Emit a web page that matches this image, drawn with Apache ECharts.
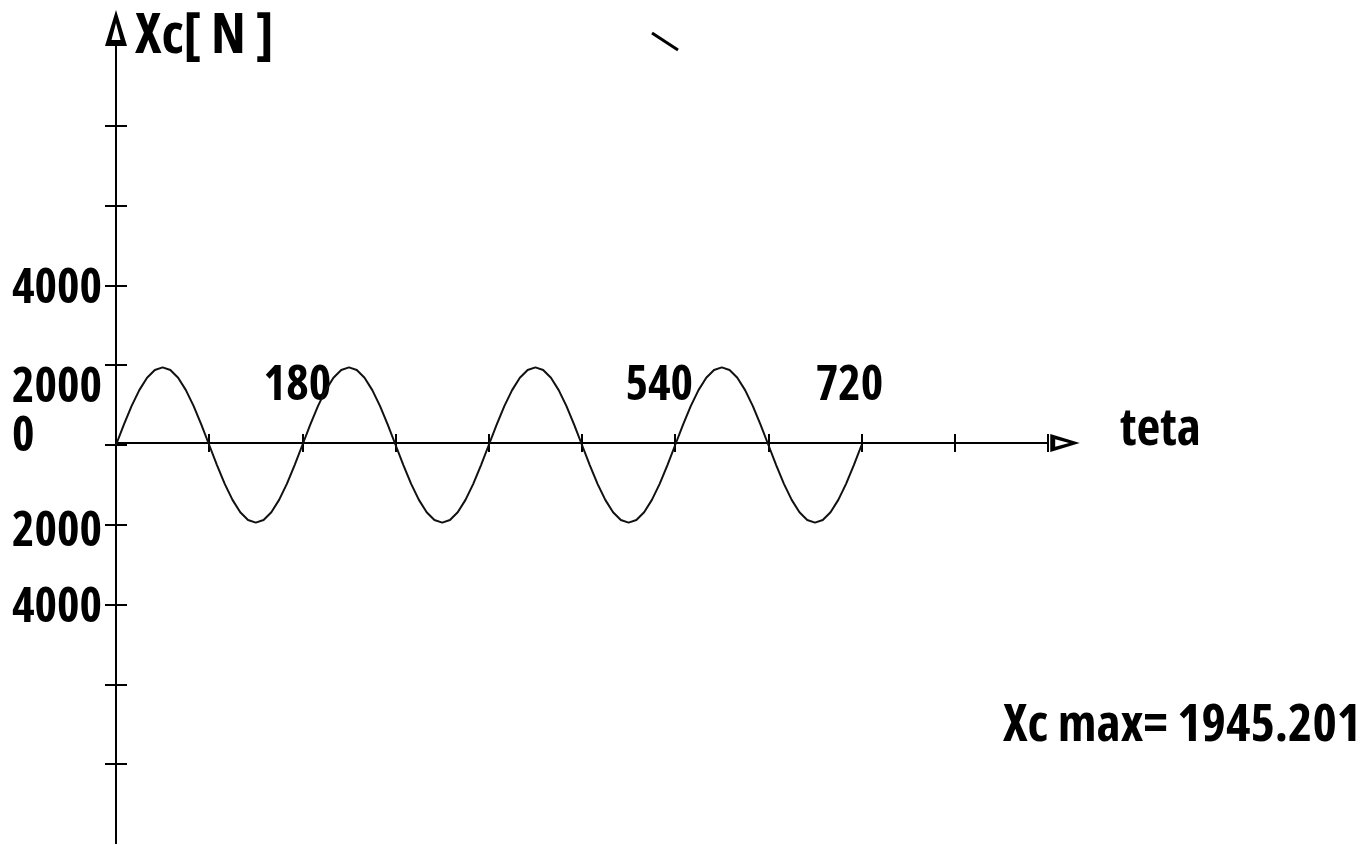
<!DOCTYPE html>
<html>
<head>
<meta charset="utf-8">
<script src="https://cdn.jsdelivr.net/npm/echarts@6/dist/echarts.min.js"></script>
<style>
html,body{margin:0;padding:0;background:#fff;}
#chart{width:1367px;height:844px;}
</style>
</head>
<body>
<div id="chart"></div>
<script>
// ---- data ----
const thetaDeg = [0,7.5,15,22.5,30,37.5,45,52.5,60,67.5,75,82.5,90,97.5,105,112.5,120,127.5,135,142.5,150,157.5,165,172.5,
  180,187.5,195,202.5,210,217.5,225,232.5,240,247.5,255,262.5,270,277.5,285,292.5,300,307.5,315,322.5,330,337.5,345,352.5,
  360,367.5,375,382.5,390,397.5,405,412.5,420,427.5,435,442.5,450,457.5,465,472.5,480,487.5,495,502.5,510,517.5,525,532.5,
  540,547.5,555,562.5,570,577.5,585,592.5,600,607.5,615,622.5,630,637.5,645,652.5,660,667.5,675,682.5,690,697.5,705,712.5,720];
const xcValues = [0,503,973,1375,1685,1879,1945,1879,1685,1375,973,503,0,-503,-973,-1375,-1685,-1879,-1945,-1879,-1685,-1375,-973,-503,
  0,503,973,1375,1685,1879,1945,1879,1685,1375,973,503,0,-503,-973,-1375,-1685,-1879,-1945,-1879,-1685,-1375,-973,-503,
  0,503,973,1375,1685,1879,1945,1879,1685,1375,973,503,0,-503,-973,-1375,-1685,-1879,-1945,-1879,-1685,-1375,-973,-503,
  0,503,973,1375,1685,1879,1945,1879,1685,1375,973,503,0,-503,-973,-1375,-1685,-1879,-1945,-1879,-1685,-1375,-973,-503,0];
const xTickValues = [90,180,270,360,450,540,630,720,810,900];
const xLabelValues = [180,540,720];
const yTickValues = [-8000,-6000,-4000,-2000,0,2000,4000,6000,8000];
const yLabelValues = [4000,2000,0,-2000,-4000];
const yAxisTitle = 'Xc[ N ]';
const xAxisTitle = 'teta';
const maxNote = 'Xc max= 1945.201';

const FONT = '"Open Sans","DejaVu Sans Condensed",sans-serif';
const FS = 52;
const FS_NUM = 48;
const arrowUp = 'path://M11,0 L22,36 L0,36 Z M11,13 L6.5,30 L15.5,30 Z';

const seriesData = thetaDeg.map((t, i) => [t, xcValues[i]]);

const chart = echarts.init(document.getElementById('chart'), null, {renderer: 'canvas'});
const txt = (extra) => Object.assign({fontFamily: FONT, fontStyle: 'condensed', fontSize: FS, fontWeight: 'bold', color: '#000'}, extra || {});
const num = (extra) => txt(Object.assign({fontSize: FS_NUM}, extra || {}));

const X_OFF = -401;

const option = {
  backgroundColor: '#fff',
  animation: false,
  title: {
    text: yAxisTitle, left: 135, top: 9, padding: 0,
    textStyle: txt({fontSize: 56})
  },
  grid: {left: 116, top: 46, width: 932, height: 802},
  xAxis: [{
    type: 'value', min: 0, max: 900, position: 'bottom', offset: X_OFF,
    splitLine: {show: false},
    axisLine: {onZero: false, lineStyle: {color: '#000', width: 2},
      symbol: ['none', arrowUp], symbolSize: [18, 35], symbolOffset: [0, 17]},
    axisTick: {show: true, customValues: xTickValues, length: 9, lineStyle: {color: '#000', width: 2}},
    axisLabel: {
      customValues: xLabelValues, inside: true, margin: 57, verticalAlign: 'middle',
      formatter: function (v) { return '{x' + v + '|' + v + '}'; },
      rich: {
        x180: num({padding: [0, 10, 0, 0]}),
        x540: num({padding: [0, 32, 0, 0]}),
        x720: num({padding: [0, 24, 0, 0]})
      }
    },
    name: '{t|' + xAxisTitle + '}', nameLocation: 'end', nameGap: 72,
    nameTextStyle: txt({align: 'left', verticalAlign: 'middle',
      rich: {t: txt({padding: [0, 0, 26, 0]})}})
  }, {
    type: 'value', min: 0, max: 900, position: 'bottom', offset: X_OFF,
    splitLine: {show: false},
    axisLine: {show: false, onZero: false},
    axisTick: {show: true, inside: true, customValues: xTickValues, length: 9, lineStyle: {color: '#000', width: 2}},
    axisLabel: {show: false}
  }],
  yAxis: [{
    type: 'value', min: -10000, max: 10000, position: 'left',
    splitLine: {show: false},
    axisLine: {show: true, onZero: false, lineStyle: {color: '#000', width: 2},
      symbol: ['none', arrowUp], symbolSize: [22, 36], symbolOffset: [0, 18]},
    axisTick: {show: true, customValues: yTickValues, length: 11, lineStyle: {color: '#000', width: 2}},
    axisLabel: {
      customValues: yLabelValues, align: 'left', margin: 104,
      formatter: function (v) {
        const s = String(Math.abs(v));
        if (v === 2000) return '{dn|' + s + '}';
        if (v === 0) return '{up|' + s + '}';
        if (v === -2000) return '{dn2|' + s + '}';
        return '{n|' + s + '}';
      },
      rich: {
        n: num({padding: [8, 0, 0, 0]}),
        dn: num({padding: [46, 0, 0, 0]}),
        dn2: num({padding: [16, 0, 0, 0]}),
        up: num({padding: [0, 0, 16, 0]})
      }
    }
  }, {
    type: 'value', min: -10000, max: 10000, position: 'left',
    splitLine: {show: false},
    axisLine: {show: false, onZero: false},
    axisTick: {show: true, inside: true, customValues: yTickValues, length: 11, lineStyle: {color: '#000', width: 2}},
    axisLabel: {show: false}
  }],
  series: [{
    type: 'line', xAxisIndex: 0, yAxisIndex: 0,
    data: seriesData, smooth: false, showSymbol: false,
    lineStyle: {color: '#111', width: 2}
  }],
  graphic: [{
    type: 'text', left: 1003, top: 700,
    style: {text: maxNote, font: 'condensed bold ' + FS + 'px "Open Sans"', fill: '#000'}
  }, {
    type: 'line', shape: {x1: 652, y1: 33, x2: 678, y2: 50},
    style: {stroke: '#000', lineWidth: 3}
  }]
};
chart.setOption(option);
</script>
</body>
</html>
